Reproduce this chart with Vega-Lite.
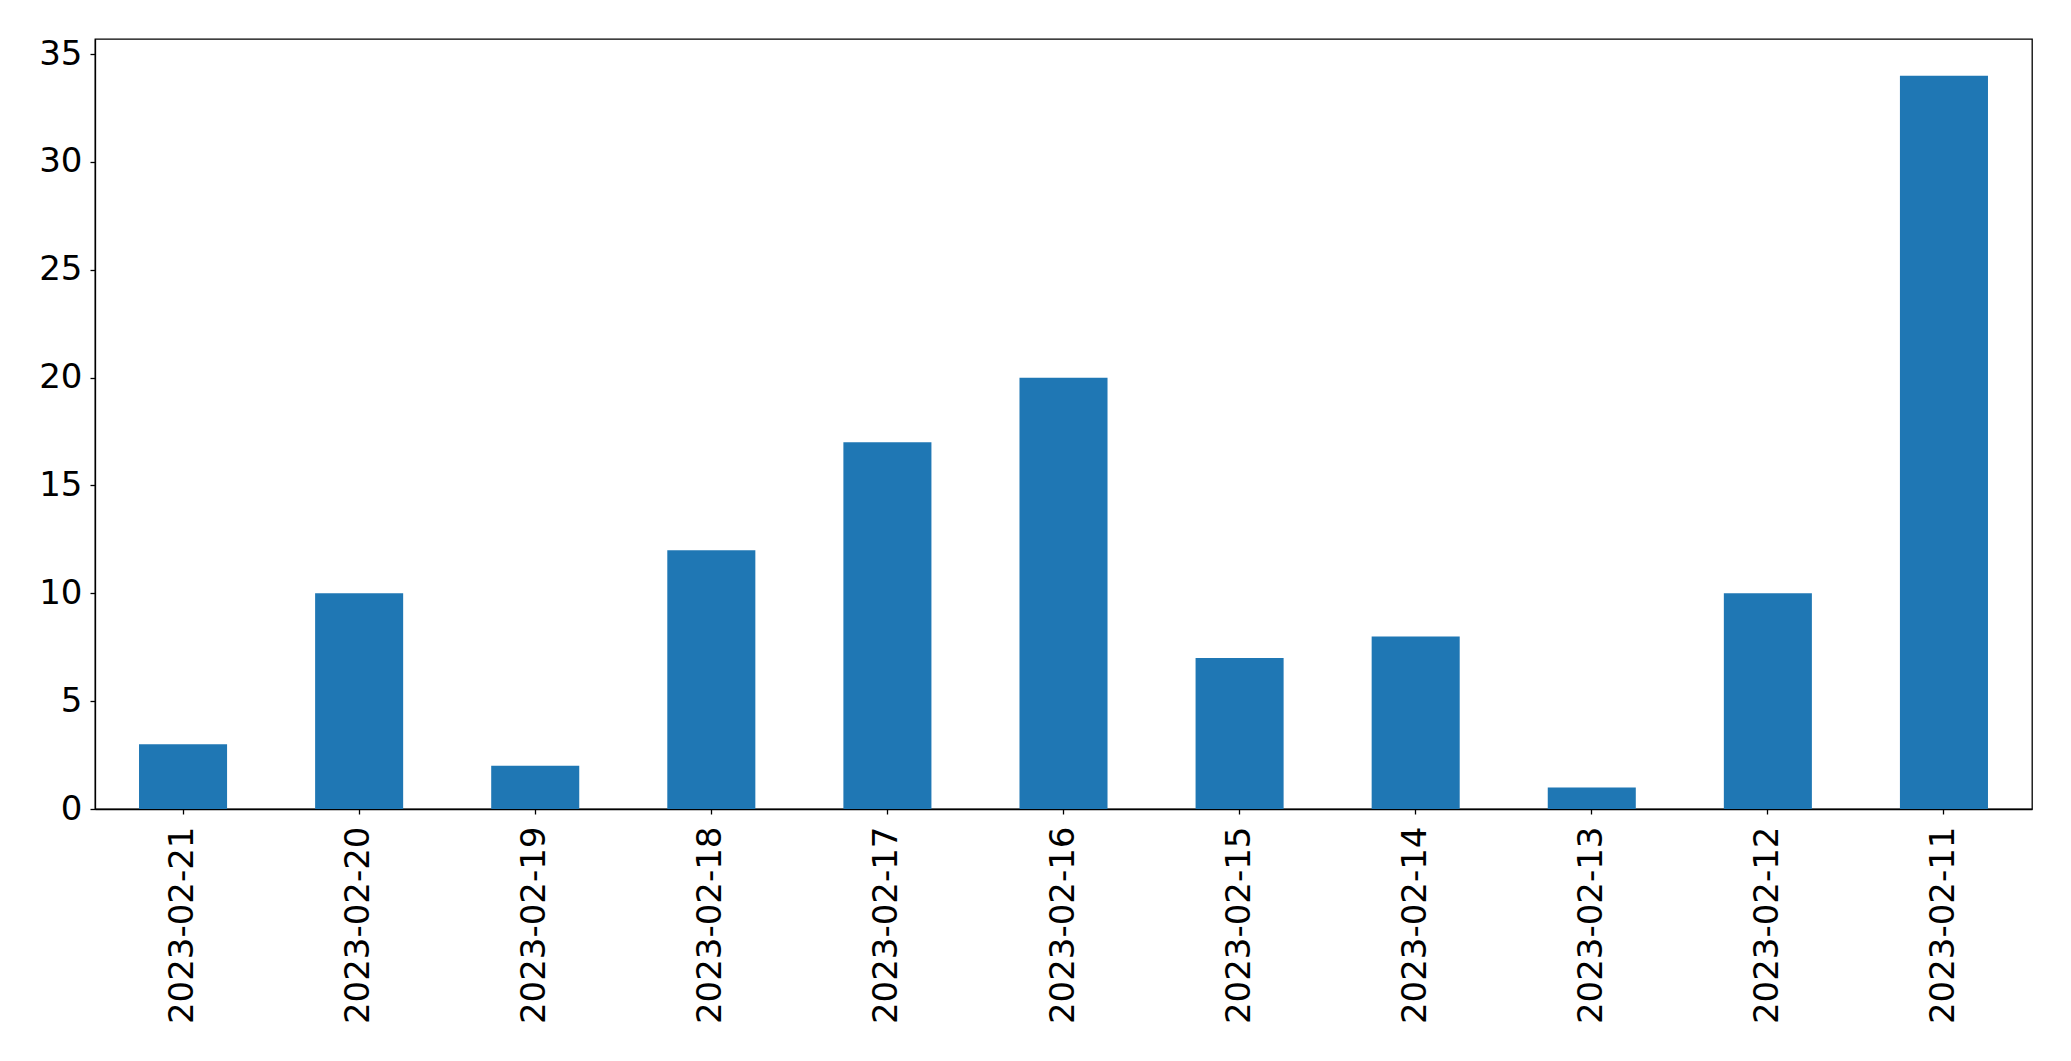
{
  "$schema": "https://vega.github.io/schema/vega-lite/v6.json",
  "width": 1937,
  "height": 770,
  "autosize": {"type": "none"},
  "padding": {"left": 95, "top": 39, "right": 39, "bottom": 252},
  "background": "white",
  "config": {
    "view": {"stroke": "black", "strokeWidth": 1.3},
    "font": "DejaVu Sans",
    "axis": {
      "grid": false,
      "domainColor": "black",
      "domainWidth": 1.3,
      "tickColor": "black",
      "tickWidth": 1.3,
      "tickSize": 5,
      "labelFont": "DejaVu Sans",
      "labelFontSize": 34,
      "labelColor": "black",
      "labelLimit": 0,
      "title": null
    }
  },
  "data": {
    "values": [
      {"date": "2023-02-21", "count": 3},
      {"date": "2023-02-20", "count": 10},
      {"date": "2023-02-19", "count": 2},
      {"date": "2023-02-18", "count": 12},
      {"date": "2023-02-17", "count": 17},
      {"date": "2023-02-16", "count": 20},
      {"date": "2023-02-15", "count": 7},
      {"date": "2023-02-14", "count": 8},
      {"date": "2023-02-13", "count": 1},
      {"date": "2023-02-12", "count": 10},
      {"date": "2023-02-11", "count": 34}
    ]
  },
  "mark": {"type": "bar", "color": "#1f77b4"},
  "encoding": {
    "x": {
      "field": "date",
      "type": "nominal",
      "sort": null,
      "scale": {"paddingInner": 0.5, "paddingOuter": 0.25},
      "axis": {"labelAngle": -90, "labelAlign": "right", "labelBaseline": "middle", "labelPadding": 12}
    },
    "y": {
      "field": "count",
      "type": "quantitative",
      "scale": {"domain": [0, 35.7], "nice": false, "zero": true},
      "axis": {"values": [0, 5, 10, 15, 20, 25, 30, 35], "labelPadding": 8}
    }
  }
}
